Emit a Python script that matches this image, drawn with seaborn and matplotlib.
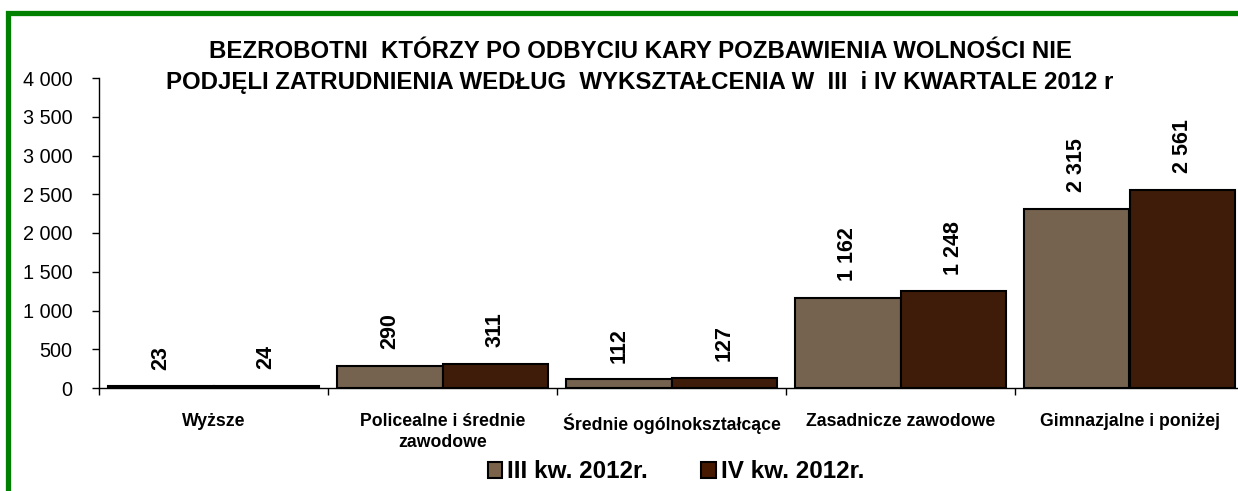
import matplotlib
matplotlib.use("Agg")
import matplotlib.pyplot as plt
import seaborn as sns
import pandas as pd
from matplotlib.patches import Rectangle
from matplotlib.ticker import FuncFormatter, FixedLocator

# dane
categories = ["Wyższe", "Policealne i średnie\nzawodowe", "Średnie ogólnokształcące",
              "Zasadnicze zawodowe", "Gimnazjalne i poniżej"]
series_names = ["III kw. 2012r.", "IV kw. 2012r."]
q3_values = [23, 290, 112, 1162, 2315]
q4_values = [24, 311, 127, 1248, 2561]
colors = ["#7B634A", "#471900"]

title = ("BEZROBOTNI  KTÓRZY PO ODBYCIU KARY POZBAWIENIA WOLNOŚCI NIE\n"
         "PODJĘLI ZATRUDNIENIA WEDŁUG  WYKSZTAŁCENIA W  III  i IV KWARTALE 2012 r")

df = pd.DataFrame({
    "kategoria": categories * 2,
    "okres": [series_names[0]] * 5 + [series_names[1]] * 5,
    "wartosc": q3_values + q4_values,
})

sns.set_style("white")
plt.rcParams["font.family"] = ["Liberation Sans", "DejaVu Sans"]
for k in ["text.color", "axes.labelcolor", "xtick.color", "ytick.color"]:
    plt.rcParams[k] = "black"

fig = plt.figure(figsize=(12.38, 4.91), dpi=100)
ax = fig.add_axes([99 / 1238, 1 - 388 / 491, 1145 / 1238, 310 / 491])

sns.barplot(data=df, x="kategoria", y="wartosc", hue="okres", palette=colors,
            edgecolor="black", linewidth=1.5, width=0.92, ax=ax, legend=False)

fmt = lambda v: f"{int(v):,}".replace(",", " ")
for cont in ax.containers:
    ax.bar_label(cont, labels=[fmt(v) for v in cont.datavalues], rotation=90,
                 padding=12, fontsize=15.5, fontweight="bold")

ax.set_ylim(0, 4000)
ax.set_xlim(-0.5, 4.5)
ax.set_yticks(range(0, 4001, 500))
ax.yaxis.set_major_formatter(FuncFormatter(lambda v, p: fmt(v)))
ax.tick_params(axis="y", labelsize=14.3, length=5, width=1, direction="out", left=True, pad=14)
ax.tick_params(axis="x", which="major", length=0, labelsize=12.7, pad=18)
ax.xaxis.set_minor_locator(FixedLocator([i - 0.5 for i in range(6)]))
ax.tick_params(axis="x", which="minor", length=5, width=1, direction="out", bottom=True)
for lab in ax.get_xticklabels():
    lab.set_fontweight("bold")
    lab.set_linespacing(1.3)
ax.set_xlabel("")
ax.set_ylabel("")
for s in ["top", "right"]:
    ax.spines[s].set_visible(False)
for s in ["left", "bottom"]:
    ax.spines[s].set_color("black")
    ax.spines[s].set_linewidth(1)

fig.text(640 / 1238, 1 - 67 / 491, title, ha="center", va="center",
         fontsize=17.3, fontweight="bold", linespacing=1.4)

handles = [Rectangle((0, 0), 1, 1, facecolor=c, edgecolor="black", linewidth=1.5)
           for c in colors]
fig.legend(handles, series_names, loc="center", bbox_to_anchor=(676 / 1238, 1 - 472 / 491),
           ncol=2, frameon=False, handlelength=0.6, handleheight=0.6, handletextpad=0.2,
           columnspacing=2.2, prop={"size": 17.5, "weight": "bold"})

# zielona ramka
fig.patches.append(Rectangle((7.5 / 1238, -0.1), 1.2, 1 - 12.5 / 491 + 0.1,
                             transform=fig.transFigure, fill=False,
                             edgecolor="#008000", linewidth=3.8))

fig.savefig("out.png", dpi=100)
